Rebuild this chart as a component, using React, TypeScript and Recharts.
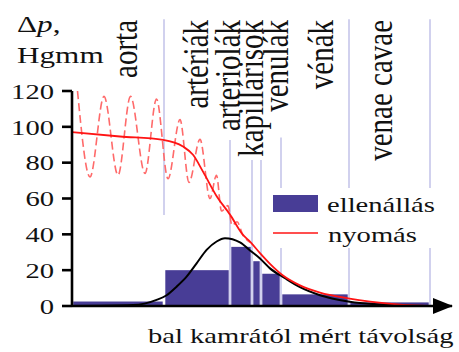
import React from 'react';
import {
  ComposedChart,
  Line,
  XAxis,
  YAxis,
  ReferenceArea,
  ReferenceLine,
  ReferenceDot,
  Legend,
} from 'recharts';

// ---------- data ----------
const xMax = 190;
const yTicks = [0, 20, 40, 60, 80, 100, 120];

// vessel segments along the distance axis (ellenállás bars)
const segmentStart = [0, 46, 79, 90, 94.5, 104.5, 138.5];
const segmentEnd = [46, 79, 90, 94.5, 104.5, 138.5, 179];
const resistance = [2.5, 20, 33, 25, 18, 6.5, 2];

// vessel names and where their labels sit
const vesselNames = ['aorta', 'artériák', 'arteriolák', 'kapillárisok', 'venulák', 'vénák', 'venae cavae'];
const vesselLabelX = [32.5, 68, 84, 95.5, 108, 130.5, 160];

// separator lines
const separatorX = [46, 79, 90, 94.5, 104.5, 138.5, 179];
const separatorTop = [160, 92.7, 81.5, 81.5, 94, 160, 160];
const separatorBottom = [50.8, 0, 0, 0, 0, 0, 0];

// mean pressure (nyomás)
const meanX = [0, 24, 45.5, 55.5, 60.5, 65.5, 72.5, 79, 85.5, 89, 94, 99, 105.5, 114, 124, 138, 149, 165.5, 178];
const meanP = [97, 94.6, 92.7, 89, 84.4, 75, 61, 51, 39.7, 35.9, 29.5, 23.5, 17, 11.5, 7.5, 4.3, 2.4, 0.6, 0];

// pulsating pressure (dashed)
const pulseX = [2.75, 9, 16, 23, 29.25, 36.5, 42.25, 48, 54, 58.5, 64, 69, 72.25, 74.75, 78, 80, 82.5, 85.5, 89];
const pulseP = [120, 72, 117, 73, 117, 74, 115.5, 71, 104, 69, 93, 60, 73, 53, 56, 45, 47, 39.5, 35.5];

// smooth resistance curve (black)
const curveX = [0, 30.5, 42.3, 47.3, 52.3, 57.3, 62.3, 67.3, 72.3, 76.5, 84, 89, 94, 99, 106.5, 114, 124, 138, 157.5, 177.5];
const curveR = [0, 0.5, 3.4, 6, 10.8, 16.4, 23.8, 31.3, 36, 37.8, 35.5, 31, 26.5, 21, 15.5, 10.5, 6, 2.5, 0.6, 0];

const meanData = meanX.map((x, i) => ({ x, p: meanP[i] }));
const pulseData = pulseX.map((x, i) => ({ x, p: pulseP[i] }));
const curveData = curveX.map((x, i) => ({ x, r: curveR[i] }));

// ---------- style ----------
const FONT = '"Liberation Serif"';
const SX = 1.3;
const BLUE = '#483d96';
const RED = '#ff1414';
const PINK = '#ff6a6a';
const LAV = '#c6c6ea';
const INK = '#111';

const txt = (size: number): React.CSSProperties => ({ fontFamily: FONT, fontSize: size, fill: INK });

const YTick = (props: any) => {
  const { x, y, payload } = props;
  return (
    <text transform={`translate(${x},${y}) scale(${SX},1)`} textAnchor="end" dy="0.35em" style={txt(22)}>
      {payload.value}
    </text>
  );
};

const YLabel = (props: any) => {
  const vb = props.viewBox || { x: 0, y: 91 };
  const top = vb.y;
  return (
    <g>
      <text transform={`translate(17,${top - 59}) scale(${SX},1)`} style={txt(24)}>
        Δ<tspan style={{ fontStyle: 'italic' }}>p</tspan>,
      </text>
      <text transform={`translate(17,${top - 28}) scale(${SX},1)`} style={txt(24)}>
        Hgmm
      </text>
    </g>
  );
};

const XLabel = (props: any) => {
  const vb = props.viewBox || { x: 72, y: 306 };
  return (
    <text transform={`translate(${vb.x + 76},${vb.y + 37}) scale(${SX},1)`} style={txt(22)}>
      bal kamrától mért távolság
    </text>
  );
};

const makeVesselLabel = (text: string) => (props: any) => {
  const vb = props.viewBox || { x: 0 };
  return (
    <text transform={`translate(${vb.x},20) scale(1.2,1) rotate(-90)`} textAnchor="end" style={txt(29)}>
      {text}
    </text>
  );
};

const BarShape = (props: any) => {
  const { x, y, width, height } = props;
  return <rect x={x + 1.3} y={y} width={Math.max(0, width - 2.6)} height={height} fill={BLUE} />;
};

const Arrow = (props: any) => {
  const { cx, cy } = props;
  return <polygon points={`${cx - 19},${cy - 8} ${cx + 1},${cy} ${cx - 19},${cy + 8}`} fill="#000" />;
};

const LegendBox = () => (
  <svg width={186} height={60} style={{ display: 'block', background: '#fff' }}>
    <rect x={7} y={7} width={45} height={17} fill={BLUE} />
    <text transform={`translate(61,24) scale(${SX},1)`} style={txt(22)}>
      ellenállás
    </text>
    <line x1={7} x2={52} y1={45} y2={45} stroke={RED} strokeWidth={1.5} />
    <text transform={`translate(62,54) scale(${SX},1)`} style={txt(22)}>
      nyomás
    </text>
  </svg>
);

export default function App() {
  return (
    <div style={{ position: 'absolute', left: 0, top: 0, background: '#fff', fontFamily: FONT }}>
      <ComposedChart width={459} height={352} margin={{ top: 91, right: 7, bottom: 0, left: 0 }}>
        <XAxis
          type="number"
          dataKey="x"
          domain={[0, xMax]}
          allowDataOverflow
          tick={false}
          tickLine={false}
          height={46}
          axisLine={{ stroke: '#000', strokeWidth: 2.6 }}
          label={{ content: XLabel }}
        />
        <YAxis
          type="number"
          domain={[0, 120]}
          ticks={yTicks}
          interval={0}
          width={72}
          tickSize={10}
          tickMargin={8}
          tick={YTick}
          axisLine={{ stroke: '#000', strokeWidth: 2.6 }}
          tickLine={{ stroke: '#000', strokeWidth: 2.6 }}
          label={{ content: YLabel }}
        />
        {segmentStart.map((s, i) => (
          <ReferenceArea
            key={'bar' + i}
            x1={s}
            x2={segmentEnd[i]}
            y1={0}
            y2={resistance[i]}
            fill={BLUE}
            fillOpacity={1}
            stroke="none"
            ifOverflow="visible"
            shape={BarShape}
          />
        ))}
        {separatorX.map((x, i) => (
          <ReferenceLine
            key={'sep' + i}
            segment={[
              { x, y: separatorTop[i] },
              { x, y: separatorBottom[i] },
            ]}
            stroke={LAV}
            strokeWidth={1.6}
            ifOverflow="visible"
          />
        ))}
        {vesselNames.map((name, i) => (
          <ReferenceLine
            key={'lab' + i}
            x={vesselLabelX[i]}
            stroke="none"
            strokeOpacity={0}
            ifOverflow="visible"
            label={{ content: makeVesselLabel(name) }}
          />
        ))}
        <Line
          data={pulseData}
          dataKey="p"
          type="monotone"
          stroke={PINK}
          strokeWidth={1.6}
          strokeDasharray="8 4"
          dot={false}
          isAnimationActive={false}
          legendType="none"
        />
        <Line
          data={curveData}
          dataKey="r"
          type="monotone"
          stroke="#000"
          strokeWidth={2}
          dot={false}
          isAnimationActive={false}
          legendType="none"
        />
        <Line
          data={meanData}
          dataKey="p"
          type="monotone"
          stroke={RED}
          strokeWidth={1.8}
          dot={false}
          isAnimationActive={false}
          name="nyomás"
        />
        <ReferenceDot x={xMax} y={0} r={0} ifOverflow="visible" shape={Arrow} />
        <Legend
          layout="horizontal"
          verticalAlign="middle"
          align="center"
          content={LegendBox}
          wrapperStyle={{ left: 266, top: 188, width: 186, height: 60 }}
        />
      </ComposedChart>
    </div>
  );
}
